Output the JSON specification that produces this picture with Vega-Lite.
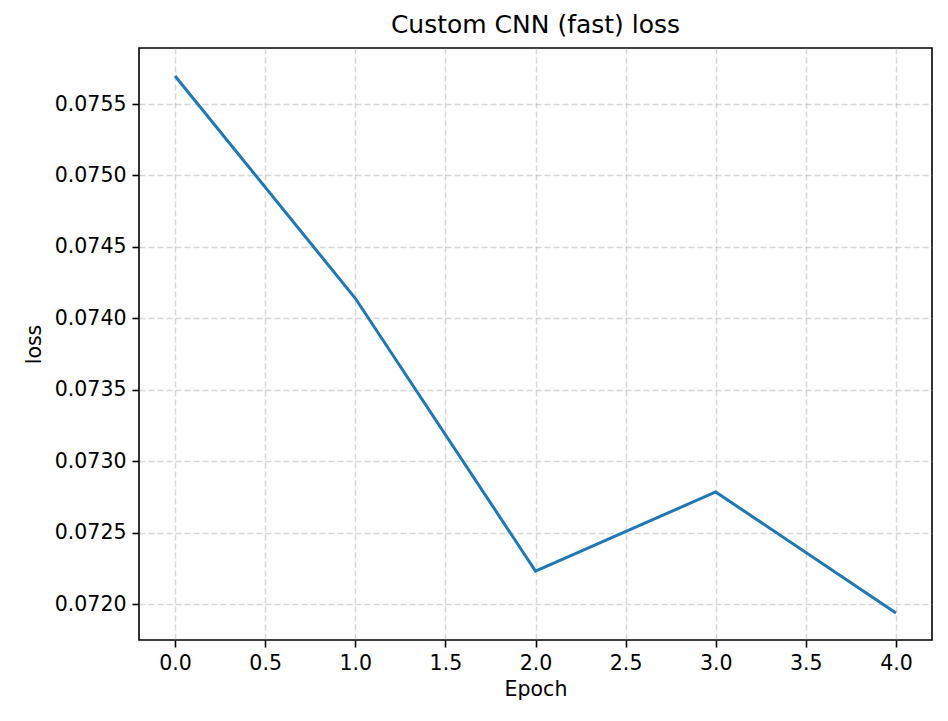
{
  "$schema": "https://vega.github.io/schema/vega-lite/v6.json",
  "width": 793,
  "height": 592,
  "autosize": {"type": "none"},
  "padding": {"left": 139, "top": 48, "right": 16, "bottom": 81},
  "background": "white",
  "title": {"text": "Custom CNN (fast) loss", "fontSize": 25, "font": "DejaVu Sans", "fontWeight": "normal", "offset": 10, "color": "black"},
  "data": {
    "values": [
      {"epoch": 0, "loss": 0.075696},
      {"epoch": 1, "loss": 0.07414},
      {"epoch": 2, "loss": 0.072231},
      {"epoch": 3, "loss": 0.072784},
      {"epoch": 4, "loss": 0.071937}
    ]
  },
  "mark": {"type": "line", "color": "#1f77b4", "strokeWidth": 3, "clip": true},
  "encoding": {
    "x": {
      "field": "epoch", "type": "quantitative", "title": "Epoch",
      "scale": {"domain": [-0.2, 4.2], "nice": false, "zero": false},
      "axis": {"values": [0, 0.5, 1, 1.5, 2, 2.5, 3, 3.5, 4], "format": ".1f"}
    },
    "y": {
      "field": "loss", "type": "quantitative", "title": "loss",
      "scale": {"domain": [0.071748, 0.075892], "nice": false, "zero": false},
      "axis": {"values": [0.072, 0.0725, 0.073, 0.0735, 0.074, 0.0745, 0.075, 0.0755], "format": ".4f"}
    }
  },
  "config": {
    "view": {"stroke": "black", "strokeWidth": 1.6},
    "axis": {
      "labelFont": "DejaVu Sans", "titleFont": "DejaVu Sans",
      "labelFontSize": 20.5, "titleFontSize": 20.5, "titleFontWeight": "normal",
      "labelColor": "black", "titleColor": "black",
      "domain": false, "tickColor": "black", "tickSize": 7, "tickWidth": 1.6,
      "gridColor": "#b0b0b0", "gridDash": [6, 3], "gridOpacity": 0.5, "gridWidth": 1.5,
      "labelPadding": 6
    },
    "axisX": {"titlePadding": 6},
    "axisY": {"titlePadding": 10}
  }
}
